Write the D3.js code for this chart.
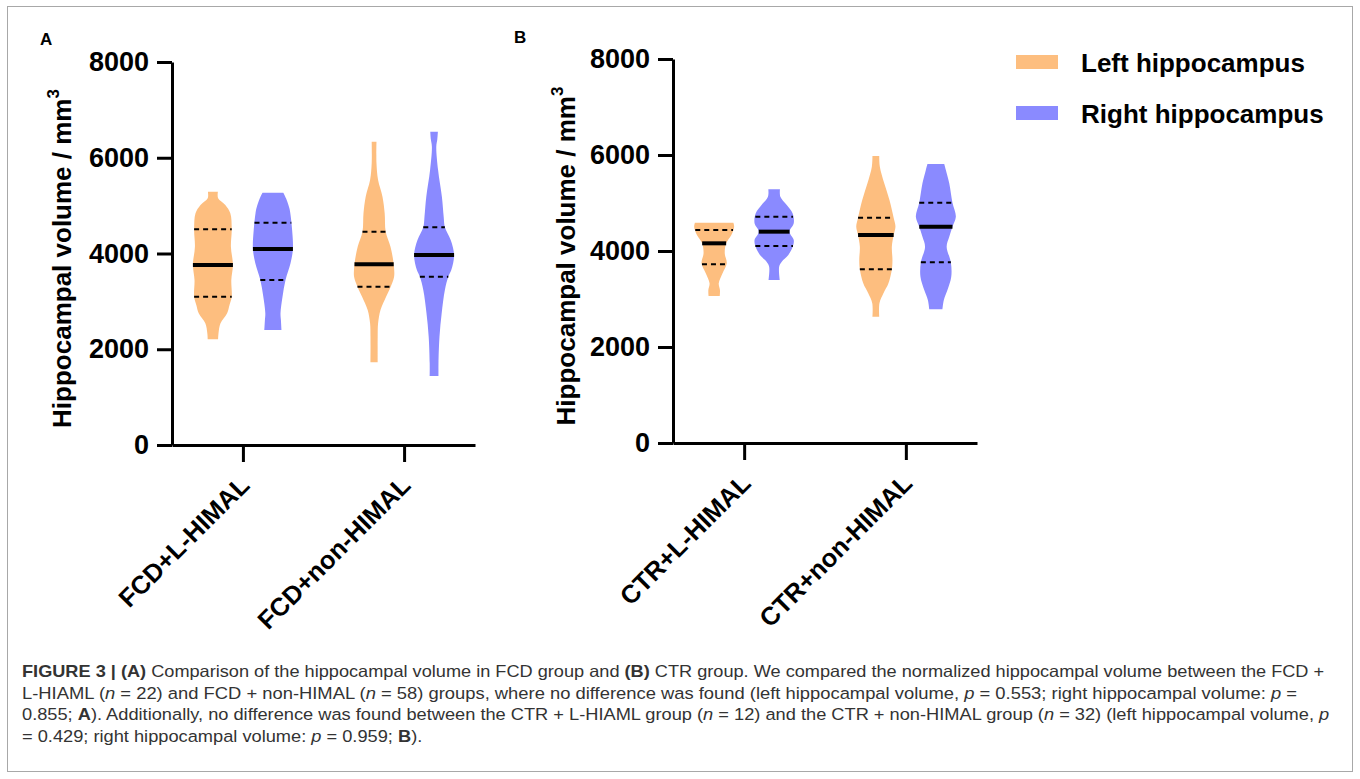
<!DOCTYPE html>
<meta charset="utf-8">
<style>
body { margin: 0; background: #fff; }
text { font-family: "Liberation Sans", Arial, sans-serif; }
.tick text { font: bold 27px "Liberation Sans", Arial, sans-serif; fill: #000; }
.tick line, .domain { stroke: #000; stroke-width: 3px; }
.cat { font: bold 25.5px "Liberation Sans", Arial, sans-serif; }
.ytitle { font: bold 26px "Liberation Sans", Arial, sans-serif; }
.legend { font: bold 26px "Liberation Sans", Arial, sans-serif; }
.caption { font-size: 16.5px; fill: #333; white-space: pre; }
</style>
<svg width="1360" height="779"></svg>
<script src="https://d3js.org/d3.v7.min.js"></script>
<script>

var groupsA = ["FCD+L-HIMAL", "FCD+non-HIMAL"],
    groupsB = ["CTR+L-HIMAL", "CTR+non-HIMAL"],
    sides = ["Left hippocampus", "Right hippocampus"],
    colors = ["#fdbe7f", "#8a8aff"],
    yTicks = [0, 2000, 4000, 6000, 8000];

// violin outlines: [volume mm3, relative half width]
var fcdLLeft = [[5291,0.25],[5152,0.26],[5013,0.62],[4839,0.87],[4505,0.94],[4143,0.9],[3760,1.0],[3447,0.92],[3098,0.94],[2924,0.83],[2750,0.71],[2541,0.38],[2332,0.28],[2207,0.26]];
var fcdLRight = [[5271,0.52],[5150,0.66],[4950,0.82],[4839,0.87],[4491,0.96],[4094,1.0],[3795,0.88],[3447,0.63],[3098,0.48],[2750,0.38],[2611,0.4],[2402,0.43]];
var fcdNonLeft = [[6336,0.12],[5884,0.12],[5535,0.2],[5187,0.42],[4839,0.53],[4456,0.58],[4143,0.82],[3774,0.98],[3516,1.0],[3307,0.83],[3098,0.6],[2820,0.32],[2541,0.2],[2263,0.18],[1727,0.18]];
var fcdNonRight = [[6545,0.19],[6380,0.16],[6231,0.11],[5744,0.2],[5187,0.39],[4769,0.48],[4547,0.54],[4282,0.83],[3969,1.0],[3655,0.86],[3516,0.71],[3238,0.54],[2750,0.38],[2263,0.27],[1706,0.22],[1441,0.22]];
var ctrLLeft = [[4590,0.96],[4507,1.0],[4333,0.86],[4160,0.6],[3951,0.53],[3743,0.63],[3535,0.42],[3326,0.23],[3188,0.29],[3063,0.28]];
var ctrLRight = [[5285,0.29],[5132,0.31],[4958,0.63],[4785,0.92],[4576,0.98],[4403,0.77],[4229,0.98],[4104,0.94],[3917,0.71],[3778,0.38],[3674,0.25],[3396,0.28]];
var ctrNonLeft = [[5979,0.17],[5757,0.2],[5410,0.42],[5063,0.68],[4694,0.89],[4507,0.98],[4333,0.89],[4090,0.8],[3813,0.83],[3618,0.8],[3326,0.63],[3118,0.38],[2910,0.18],[2632,0.17]];
var ctrNonRight = [[5813,0.42],[5688,0.5],[5410,0.67],[5007,0.83],[4715,1.0],[4507,0.83],[4299,0.67],[4090,0.54],[3764,0.75],[3465,0.77],[3188,0.58],[2979,0.4],[2785,0.33]];

// [Q1, median, Q3]
var quartFcd = [[3098, 3760, 4505], [3447, 4094, 4644], [3307, 3774, 4456], [3516, 3969, 4547]];
var quartCtr = [[3722, 4160, 4437], [4104, 4403, 4715], [3618, 4333, 4694], [3764, 4507, 5007]];

var captionLines = [
  [["FIGURE 3 | (A)", "b"], [" Comparison of the hippocampal volume in FCD group and ", ""], ["(B)", "b"], [" CTR group. We compared the normalized hippocampal volume between the FCD +", ""]],
  [["L-HIAML (", ""], ["n", "i"], [" = 22) and FCD + non-HIMAL (", ""], ["n", "i"], [" = 58) groups, where no difference was found (left hippocampal volume, ", ""], ["p", "i"], [" = 0.553; right hippocampal volume: ", ""], ["p", "i"], [" =", ""]],
  [["0.855; ", ""], ["A", "b"], ["). Additionally, no difference was found between the CTR + L-HIAML group (", ""], ["n", "i"], [" = 12) and the CTR + non-HIMAL group (", ""], ["n", "i"], [" = 32) (left hippocampal volume, ", ""], ["p", "i"]],
  [["= 0.429; right hippocampal volume: ", ""], ["p", "i"], [" = 0.959; ", ""], ["B", "b"], [").", ""]]
];
var captionWidths = [1303, 1276, 1309];

var svg = d3.select("svg");

svg.append("rect")
    .attr("x", 7.5).attr("y", 6.5)
    .attr("width", 1345).attr("height", 765)
    .attr("fill", "none").attr("stroke", "#a8a8a8");

function panel(opt) {
  var y = d3.scaleLinear().domain([0, 8000]).range([opt.bottom, opt.top]);
  var x = d3.scalePoint().domain(opt.groups).range([opt.left, opt.right]).padding(0.44);
  var g = svg.append("g");

  g.append("g")
      .attr("transform", "translate(" + opt.left + ",0)")
      .call(d3.axisLeft(y).tickValues(yTicks).tickFormat(d3.format("d"))
        .tickSize(15).tickSizeOuter(0).tickPadding(8));

  g.append("g")
      .attr("transform", "translate(0," + opt.bottom + ")")
      .call(d3.axisBottom(x).tickSize(17).tickSizeOuter(0).tickFormat(""));

  g.selectAll(".cat")
    .data(opt.groups)
    .enter().append("text")
      .attr("class", "cat")
      .attr("text-anchor", "end")
      .attr("transform", function(d) { return "translate(" + (x(d) + 8) + "," + (opt.bottom + 42) + ") rotate(-45)"; })
      .text(function(d) { return d; });

  var t = g.append("text")
      .attr("class", "ytitle")
      .attr("text-anchor", "middle")
      .attr("transform", "translate(" + opt.titleX + "," + ((opt.top + opt.bottom) / 2 + 5) + ") rotate(-90)");
  t.append("tspan").text("Hippocampal volume / mm");
  t.append("tspan").attr("dy", -12).style("font-size", "17px").text("3");

  g.append("text")
      .attr("x", opt.letterX).attr("y", opt.letterY)
      .style("font", "bold 17px 'Liberation Sans', Arial, sans-serif")
      .text(opt.letter);

  var halfW = 20, off = 30;
  opt.shapes.forEach(function(shape, i) {
    var cx = x(opt.groups[Math.floor(i / 2)]) + (i % 2 ? off : -off);
    var area = d3.area()
        .curve(d3.curveCatmullRom.alpha(0.5))
        .y(function(d) { return y(d[0]); })
        .x0(function(d) { return cx - d[1] * halfW; })
        .x1(function(d) { return cx + d[1] * halfW; });
    g.append("path").attr("d", area(shape)).attr("fill", colors[i % 2]);

    var wAt = d3.scaleLinear().domain(shape.map(function(d) { return d[0]; }))
        .range(shape.map(function(d) { return d[1]; }));
    opt.quart[i].forEach(function(q, k) {
      var w = wAt(q) * halfW;
      g.append("line")
          .attr("x1", cx - w).attr("x2", cx + w)
          .attr("y1", y(q)).attr("y2", y(q))
          .attr("stroke", "#000")
          .attr("stroke-width", k === 1 ? 4 : 2)
          .attr("stroke-dasharray", k === 1 ? null : "5,4");
    });
  });
}

panel({ groups: groupsA, left: 172, right: 475, top: 62, bottom: 445, titleX: 71,
        letter: "A", letterX: 40, letterY: 45,
        shapes: [fcdLLeft, fcdLRight, fcdNonLeft, fcdNonRight], quart: quartFcd });
panel({ groups: groupsB, left: 673, right: 977, top: 59, bottom: 443, titleX: 575,
        letter: "B", letterX: 514, letterY: 43,
        shapes: [ctrLLeft, ctrLRight, ctrNonLeft, ctrNonRight], quart: quartCtr });

// legend
var leg = svg.append("g").selectAll("g")
    .data(sides)
    .enter().append("g")
      .attr("transform", function(d, i) { return "translate(1016," + (55 + i * 51) + ")"; });
leg.append("rect").attr("width", 42).attr("height", 14).attr("fill", function(d, i) { return colors[i]; });
leg.append("text").attr("class", "legend").attr("x", 65).attr("y", 17).text(function(d) { return d; });

// caption: full lines stretched to the column width, last line keeps the previous scale
var k = 1;
captionLines.forEach(function(line, i) {
  var txt = svg.append("text").attr("class", "caption");
  line.forEach(function(seg) {
    txt.append("tspan")
        .style("font-weight", seg[1] === "b" ? "bold" : null)
        .style("font-style", seg[1] === "i" ? "italic" : null)
        .text(seg[0]);
  });
  if (i < captionWidths.length) k = captionWidths[i] / txt.node().getComputedTextLength();
  txt.attr("transform", "translate(22," + (677 + i * 21.7) + ") scale(" + k + ",1)");
});

</script>
